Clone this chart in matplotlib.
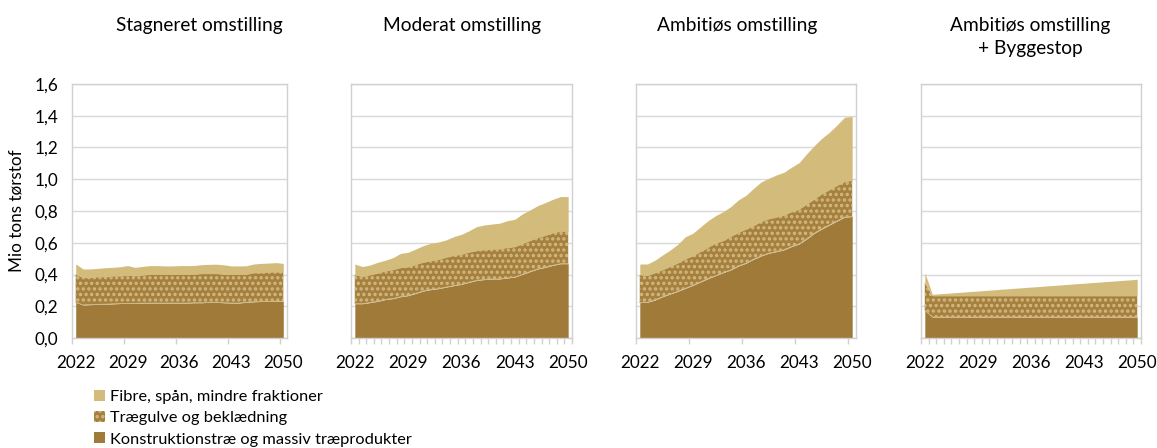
import matplotlib
matplotlib.use("Agg")
import matplotlib.pyplot as plt
from matplotlib.patches import Patch
import numpy as np

plt.rcParams['font.family'] = ['Lato', 'DejaVu Sans']
plt.rcParams['hatch.linewidth'] = 1.6

years = list(range(2022, 2051))
year_labels = ['2022', '2029', '2036', '2043', '2050']

series_names = ['Fibre, spån, mindre fraktioner',
                'Trægulve og beklædning',
                'Konstruktionstræ og massiv træprodukter']

scenario_titles = ['Stagneret omstilling', 'Moderat omstilling',
                   'Ambitiøs omstilling', 'Ambitiøs omstilling\n+ Byggestop']

# Konstruktionstræ (bottom layer), Mio tons
konstruktion_stagneret = [0.225, 0.208, 0.210, 0.212, 0.213, 0.215, 0.217, 0.218, 0.218, 0.220,
                          0.220, 0.220, 0.220, 0.220, 0.220, 0.220, 0.222, 0.222, 0.225, 0.225,
                          0.222, 0.220, 0.220, 0.225, 0.228, 0.230, 0.230, 0.232, 0.232]
konstruktion_moderat = [0.216, 0.216, 0.223, 0.231, 0.242, 0.248, 0.260, 0.267, 0.281, 0.296,
                        0.305, 0.311, 0.321, 0.330, 0.338, 0.351, 0.363, 0.368, 0.372, 0.372,
                        0.378, 0.384, 0.401, 0.418, 0.435, 0.445, 0.458, 0.468, 0.468]
konstruktion_ambitioes = [0.223, 0.225, 0.239, 0.260, 0.277, 0.294, 0.313, 0.332, 0.353, 0.374,
                          0.393, 0.412, 0.429, 0.454, 0.471, 0.496, 0.517, 0.534, 0.544, 0.555,
                          0.576, 0.592, 0.624, 0.660, 0.687, 0.712, 0.737, 0.761, 0.765]
konstruktion_byggestop = [0.175, 0.132, 0.132, 0.132, 0.132, 0.132, 0.132, 0.132, 0.132, 0.132,
                          0.132, 0.132, 0.132, 0.132, 0.132, 0.132, 0.132, 0.132, 0.132, 0.132,
                          0.132, 0.132, 0.132, 0.132, 0.132, 0.132, 0.132, 0.132, 0.132]

# Trægulve og beklædning (middle layer)
gulve_stagneret = [0.175, 0.172, 0.170, 0.173, 0.172, 0.175, 0.173, 0.177, 0.172, 0.175,
                   0.180, 0.180, 0.180, 0.180, 0.180, 0.180, 0.178, 0.183, 0.180, 0.180,
                   0.178, 0.180, 0.180, 0.175, 0.182, 0.180, 0.185, 0.183, 0.183]
gulve_moderat = [0.181, 0.171, 0.174, 0.177, 0.180, 0.181, 0.183, 0.180, 0.181, 0.181,
                 0.182, 0.183, 0.187, 0.189, 0.189, 0.189, 0.187, 0.187, 0.187, 0.189,
                 0.191, 0.190, 0.193, 0.195, 0.197, 0.200, 0.204, 0.204, 0.204]
gulve_ambitioes = [0.174, 0.168, 0.171, 0.169, 0.173, 0.177, 0.185, 0.185, 0.191, 0.197,
                   0.204, 0.201, 0.210, 0.210, 0.214, 0.210, 0.216, 0.216, 0.217, 0.218,
                   0.218, 0.219, 0.218, 0.214, 0.221, 0.221, 0.223, 0.224, 0.227]
gulve_byggestop = [0.175, 0.133, 0.133, 0.133, 0.133, 0.133, 0.133, 0.133, 0.133, 0.133,
                   0.133, 0.133, 0.133, 0.133, 0.133, 0.133, 0.133, 0.133, 0.133, 0.133,
                   0.133, 0.133, 0.133, 0.133, 0.133, 0.133, 0.133, 0.133, 0.133]

# Fibre, spån, mindre fraktioner (top layer)
fibre_stagneret = [0.066, 0.055, 0.055, 0.054, 0.058, 0.055, 0.059, 0.061, 0.055, 0.056,
                   0.056, 0.056, 0.054, 0.054, 0.056, 0.056, 0.057, 0.057, 0.059, 0.060,
                   0.061, 0.054, 0.054, 0.055, 0.056, 0.060, 0.057, 0.060, 0.055]
fibre_moderat = [0.069, 0.063, 0.063, 0.069, 0.068, 0.077, 0.090, 0.093, 0.099, 0.105,
                 0.110, 0.111, 0.110, 0.120, 0.126, 0.136, 0.152, 0.157, 0.159, 0.162,
                 0.170, 0.174, 0.188, 0.194, 0.202, 0.208, 0.212, 0.219, 0.219]
fibre_ambitioes = [0.069, 0.073, 0.080, 0.094, 0.104, 0.119, 0.140, 0.143, 0.156, 0.168,
                   0.174, 0.183, 0.189, 0.206, 0.214, 0.237, 0.250, 0.256, 0.266, 0.271,
                   0.282, 0.294, 0.318, 0.338, 0.350, 0.363, 0.382, 0.406, 0.403]
fibre_byggestop = [0.062, 0.010, 0.014, 0.017, 0.021, 0.024, 0.028, 0.031, 0.035, 0.038,
                   0.042, 0.045, 0.049, 0.052, 0.056, 0.059, 0.063, 0.066, 0.070, 0.073,
                   0.077, 0.080, 0.084, 0.087, 0.091, 0.094, 0.098, 0.101, 0.105]

scenarios = [
    (konstruktion_stagneret, gulve_stagneret, fibre_stagneret),
    (konstruktion_moderat, gulve_moderat, fibre_moderat),
    (konstruktion_ambitioes, gulve_ambitioes, fibre_ambitioes),
    (konstruktion_byggestop, gulve_byggestop, fibre_byggestop),
]

y_ticks = [0.0, 0.2, 0.4, 0.6, 0.8, 1.0, 1.2, 1.4, 1.6]

DARK = '#9F7A39'
MID = '#A5803F'
DOTS = '#D3BA82'
LIGHT = '#D3BC7B'
GRID = '#D9D9D9'
SPINE = '#D0D0D0'

W, H = 1157, 448
fig = plt.figure(figsize=(W / 100, H / 100), dpi=100)

# axes boxes in pixels: left, right
boxes = [(72, 287), (351, 572), (636, 856), (921, 1141)]
top_px, bottom_px = 84, 338
every_tick = [False, True, False, True]

x = np.arange(len(years))
label_pos = [years.index(int(y)) for y in year_labels]

for i, ((left, right), (kon, gul, fib)) in enumerate(zip(boxes, scenarios)):
    ax = fig.add_axes([left / W, 1 - bottom_px / H, (right - left) / W,
                       (bottom_px - top_px) / H])
    kon = np.array(kon)
    gul = np.array(gul)
    fib = np.array(fib)
    l1 = kon
    l2 = kon + gul
    l3 = l2 + fib
    ax.fill_between(x, 0, l1, color=DARK, linewidth=0, zorder=2)
    ax.fill_between(x, l1, l2, facecolor=MID, edgecolor=DOTS, hatch='...',
                    linewidth=0, zorder=2)
    ax.fill_between(x, l2, l3, color=LIGHT, linewidth=0, zorder=2)
    ax.plot(x, l1, color='#CDB680', linewidth=0.6, zorder=3)

    ax.set_xlim(-0.5, len(years) - 0.5)
    ax.set_ylim(0, 1.6)
    ax.set_yticks(y_ticks)
    ax.yaxis.grid(True, color=GRID, linewidth=1.0, zorder=0)
    ax.set_axisbelow(True)
    for s in ax.spines.values():
        s.set_color(SPINE)
        s.set_linewidth(1.0)

    ax.set_xticks(label_pos)
    ax.set_xticklabels(year_labels)
    ax.tick_params(axis='x', which='major', length=0, pad=12, labelsize=12.3)
    if every_tick[i]:
        minor = np.arange(-0.5, len(years), 1.0)
    else:
        minor = np.arange(-0.5, len(years), 7.0)
    ax.set_xticks(minor, minor=True)
    ax.tick_params(axis='x', which='minor', length=4, color=SPINE, width=1.0)
    ax.tick_params(axis='y', length=0, labelsize=12.3, pad=10)
    if i == 0:
        ax.set_yticklabels([f'{v:.1f}'.replace('.', ',') for v in y_ticks])
        ax.set_ylabel('Mio tons tørstof', fontsize=12.3, labelpad=7)
    else:
        ax.set_yticklabels([])

# Panel titles
title_x = [199, 462, 737, 1030]
for tx, title in zip(title_x, scenario_titles):
    fig.text(tx / W, 1 - 17 / H, title, ha='center', va='top', fontsize=13.8,
             linespacing=1.4)

handles = [Patch(facecolor=LIGHT, edgecolor='none'),
           Patch(facecolor=MID, edgecolor=DOTS, hatch='...', linewidth=0),
           Patch(facecolor=DARK, edgecolor='none')]
fig.legend(handles, series_names, loc='upper left',
           bbox_to_anchor=(94 / W, 1 - 390 / H), frameon=False, fontsize=11.8,
           handlelength=0.66, handleheight=0.66, handletextpad=0.3,
           labelspacing=0.42, borderaxespad=0, borderpad=0)

fig.savefig('out.png', dpi=100)
